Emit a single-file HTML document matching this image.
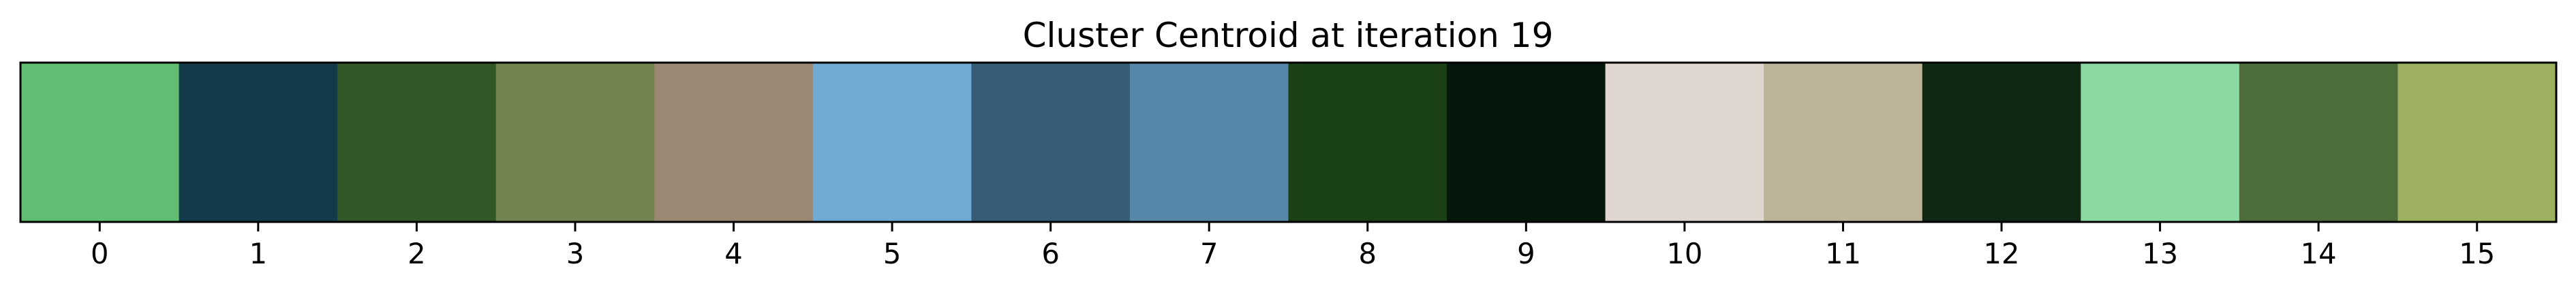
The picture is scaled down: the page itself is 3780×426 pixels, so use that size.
<!DOCTYPE html>
<html><head><meta charset="utf-8"><style>
html,body{margin:0;padding:0;background:#fff;width:3780px;height:426px;overflow:hidden}
svg text{font-family:"DejaVu Sans","Liberation Sans",sans-serif;fill:#000}
</style></head><body>
<svg id="chart" width="3780" height="426" xmlns="http://www.w3.org/2000/svg">
<text x="1890" y="69" font-size="50" text-anchor="middle">Cluster Centroid at iteration 19</text>
<g id="cells"></g>
<rect x="30" y="92" width="3721" height="234" fill="none" stroke="#000" stroke-width="3"/>
<g id="ticks"></g>
</svg>
<script>
const categories = [0,1,2,3,4,5,6,7,8,9,10,11,12,13,14,15];
const colors = ["#61bd72","#143b4a","#315826","#728450","#9a8874","#70aad3","#365d76","#5687a8","#1a4115","#06180b","#e0d6d0","#bdb398","#0e2813","#8ad8a2","#4d6d3b","#9cb060"];
const tickLabels = ["0","1","2","3","4","5","6","7","8","9","10","11","12","13","14","15"];
const NS="http://www.w3.org/2000/svg";
const x0=30,x1=3751,yTop=92,yBot=326;
const xMin=-0.5,xMax=categories.length-0.5;
function xs(v){return x0+(v-xMin)/(xMax-xMin)*(x1-x0);}
const cells=document.getElementById('cells'),ticks=document.getElementById('ticks');
categories.forEach((c,i)=>{
  const r=document.createElementNS(NS,'rect');
  
  
  r.setAttribute('x',xs(c-0.5));r.setAttribute('y',yTop);
  r.setAttribute('width',xs(c+0.5)-xs(c-0.5)+0.5);r.setAttribute('height',yBot-yTop);
  r.setAttribute('fill',colors[i]);
  cells.appendChild(r);
  const l=document.createElementNS(NS,'line');
  
  
  l.setAttribute('x1',xs(c));l.setAttribute('x2',xs(c));
  l.setAttribute('y1',yBot);l.setAttribute('y2',yBot+14);
  l.setAttribute('stroke','#000');l.setAttribute('stroke-width','3');
  ticks.appendChild(l);
  const t=document.createElementNS(NS,'text');
  
  
  t.setAttribute('x',xs(c));t.setAttribute('y',387);
  t.setAttribute('font-size','41.7');t.setAttribute('text-anchor','middle');
  t.textContent=tickLabels[i];
  ticks.appendChild(t);
});
</script>
</body></html>
